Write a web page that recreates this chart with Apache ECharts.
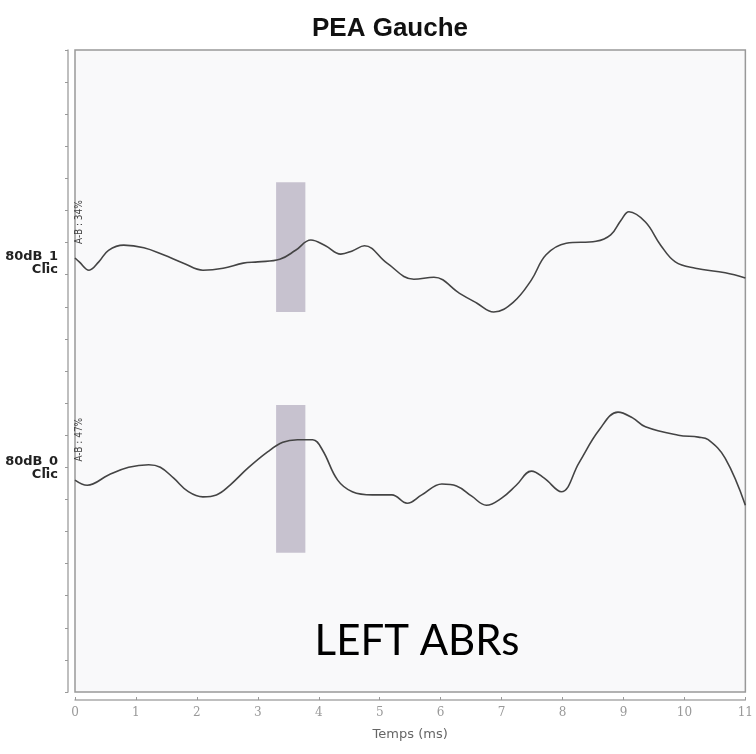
<!DOCTYPE html>
<html>
<head>
<meta charset="utf-8">
<script src="https://cdn.jsdelivr.net/npm/echarts@6/dist/echarts.min.js"></script>
<style>
  html, body { margin: 0; padding: 0; background: #fff; }
  #chart { width: 756px; height: 754px; }
</style>
</head>
<body>
<div id="chart"></div>
<script>
// temps en ms, amplitude en unités relatives (0-100 sur la hauteur du cadre)
var trace1_t = [0, 0.07, 0.23, 0.39, 0.55, 0.8, 1.13, 1.45, 1.78, 2.1, 2.43, 2.76, 3.0, 3.36, 3.62, 3.87, 4.11, 4.36, 4.55, 4.75, 5.12, 5.56, 5.89, 6.31, 6.59, 6.87, 7.19, 7.49, 7.73, 8.06, 8.55, 8.79, 8.96, 9.09, 9.36, 9.61, 9.85, 10.18, 10.67, 11.0];
var trace1_v = [67.6, 67.0, 65.7, 67.0, 68.8, 69.6, 69.2, 68.1, 66.8, 65.7, 66.0, 66.8, 67.0, 67.4, 68.8, 70.4, 69.5, 68.2, 68.7, 69.5, 66.8, 64.3, 64.6, 62.1, 60.6, 59.2, 60.7, 64.2, 68.1, 69.9, 70.2, 71.2, 73.5, 74.8, 73.2, 69.6, 67.0, 66.0, 65.3, 64.5];

var trace0_t = [0, 0.2, 0.55, 0.88, 1.21, 1.4, 1.62, 1.86, 2.1, 2.32, 2.54, 2.84, 3.16, 3.41, 3.65, 3.9, 4.06, 4.31, 4.55, 4.88, 5.2, 5.45, 5.69, 6.02, 6.26, 6.51, 6.75, 7.0, 7.24, 7.49, 7.7, 7.98, 8.27, 8.6, 8.91, 9.15, 9.36, 9.9, 10.23, 10.39, 10.67, 11.0];
var trace0_v = [33.0, 32.2, 33.8, 35.0, 35.4, 35.0, 33.3, 31.2, 30.4, 30.7, 32.2, 34.9, 37.4, 38.9, 39.3, 39.3, 37.7, 33.0, 31.2, 30.7, 30.7, 29.4, 30.7, 32.4, 32.1, 30.5, 29.1, 30.2, 32.2, 34.4, 33.3, 31.2, 35.7, 40.8, 43.6, 42.7, 41.3, 40.0, 39.7, 39.3, 36.4, 29.1];

// zones grisées : [t début, t fin, amplitude bas, amplitude haut]
var zone1 = [3.3, 3.78, 59.2, 79.4];
var zone0 = [3.3, 3.78, 21.7, 44.7];

var traceNames = ['80dB_1', '80dB_0'];
var traceLevels = [66.8, 34.9];
var ratios = ['A-B : 34%', 'A-B : 47%'];
var ratioPos = [[0.07, 73.2], [0.07, 39.3]];

function pairs(t, v) {
  return t.map(function (x, i) { return [x, v[i]]; });
}

var chart = echarts.init(document.getElementById('chart'));

function traceSeries(name, t, v, zone, ratio, pos) {
  return {
    name: name,
    type: 'line',
    smooth: 0.4,
    symbol: 'none',
    data: pairs(t, v),
    lineStyle: { color: '#444', width: 1.6 },
    markArea: {
      silent: true,
      itemStyle: { color: 'rgba(165,156,178,0.6)' },
      data: [[{ coord: [zone[0], zone[3]] }, { coord: [zone[1], zone[2]] }]]
    },
    markPoint: {
      symbol: 'circle',
      symbolSize: 0,
      silent: true,
      data: [{
        coord: pos,
        label: {
          show: true,
          formatter: ratio,
          rotate: 90,
          position: 'inside',
          color: '#444',
          fontSize: 10,
          fontFamily: 'DejaVu Sans Condensed'
        }
      }]
    }
  };
}

var option = {
  backgroundColor: '#fff',
  animation: false,
  title: [
    {
      text: 'PEA Gauche',
      left: 385,
      textAlign: 'center',
      top: 11,
      textStyle: { fontFamily: 'Liberation Sans', fontWeight: 'bold', fontSize: 26, color: '#111' }
    },
    {
      text: 'LEFT ABRs',
      left: 412,
      textAlign: 'center',
      top: 615,
      textStyle: { fontFamily: 'Lato', fontWeight: 'normal', fontSize: 42, color: '#000' }
    }
  ],
  grid: {
    left: 75,
    right: 4,
    top: 50,
    bottom: 62,
    show: true,
    backgroundColor: '#f9f9fa',
    borderColor: '#999',
    borderWidth: 1.5
  },
  xAxis: {
    type: 'value',
    min: 0,
    max: 11,
    interval: 1,
    offset: 8,
    name: 'Temps (ms)',
    nameLocation: 'middle',
    nameGap: 28,
    nameTextStyle: { fontFamily: 'DejaVu Sans', fontSize: 13, color: '#666' },
    axisLine: { show: true, onZero: false, lineStyle: { color: '#aaa', width: 1.5 } },
    axisTick: { show: true, inside: true, length: 3, lineStyle: { color: '#999' } },
    axisLabel: { fontFamily: 'DejaVu Serif', fontSize: 12, color: '#999', margin: 7 },
    splitLine: { show: false }
  },
  yAxis: {
    type: 'value',
    min: 0,
    max: 100,
    interval: 5,
    offset: 7,
    axisLine: { show: true, onZero: false, lineStyle: { color: '#aaa', width: 1.5 } },
    axisTick: { show: true, length: 3, lineStyle: { color: '#999' } },
    axisLabel: {
      customValues: traceLevels,
      margin: 10,
      formatter: function (val) {
        var i = traceLevels.indexOf(val);
        return '{a|' + traceNames[i] + '}\n{a|Clic}';
      },
      rich: {
        a: { fontFamily: 'DejaVu Sans', fontWeight: 'bold', fontSize: 13, lineHeight: 13, color: '#222', align: 'right' }
      }
    },
    splitLine: { show: false }
  },
  series: [
    traceSeries(traceNames[0], trace1_t, trace1_v, zone1, ratios[0], ratioPos[0]),
    traceSeries(traceNames[1], trace0_t, trace0_v, zone0, ratios[1], ratioPos[1])
  ]
};

chart.setOption(option);
</script>
</body>
</html>
